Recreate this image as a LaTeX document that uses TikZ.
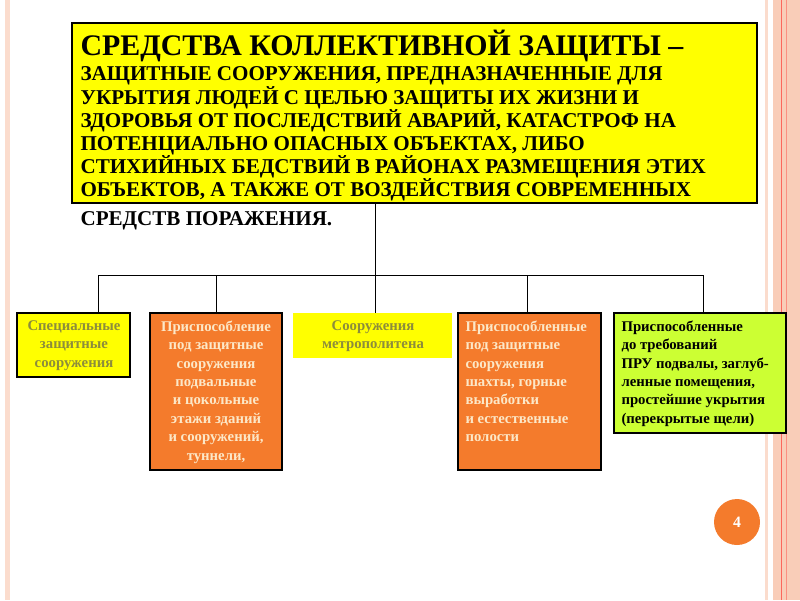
\documentclass[tikz,border=0pt]{standalone}
\usepackage{fontspec}
\setmainfont{Liberation Serif}
\definecolor{sunyellow}{HTML}{FFFF00}
\definecolor{boxorange}{HTML}{F47B2C}
\definecolor{limegreen}{HTML}{CCFF33}
\definecolor{olivetext}{HTML}{8C8C3C}
\definecolor{creamtext}{HTML}{FCE8C8}
\definecolor{stripe}{HTML}{F9CDB8}
\begin{document}
\begin{tikzpicture}[x=0.02cm,y=-0.02cm,line width=0.6pt,
    kind/.style={anchor=north west,inner sep=0pt,font=\fontsize{8.4}{10.5}\selectfont\bfseries},
    link/.style={line width=0.5pt}]
  \useasboundingbox (0,0) rectangle (800,600);
  % page frame
  \fill[stripe!70] (5,0) rectangle (10,600);
  \fill[stripe!70] (765,0) rectangle (768,600);
  \fill[stripe] (773,0) rectangle (800,600);
  \draw[stripe!50!red,line width=0.4pt] (781,0) -- (781,600);
  \draw[stripe!70!red,line width=0.4pt] (786,0) -- (786,600);
  % definition
  \draw[fill=sunyellow] (72,23) rectangle (757,203);
  \node[anchor=north west,inner sep=0pt,align=left,
        font=\fontsize{12}{13.2}\selectfont\bfseries] (def) at (80,30)
    {{\fontsize{17}{17}\selectfont СРЕДСТВА КОЛЛЕКТИВНОЙ ЗАЩИТЫ –}\\[1pt]
     ЗАЩИТНЫЕ СООРУЖЕНИЯ, ПРЕДНАЗНАЧЕННЫЕ ДЛЯ\\
     УКРЫТИЯ ЛЮДЕЙ С ЦЕЛЬЮ ЗАЩИТЫ ИХ ЖИЗНИ И\\
     ЗДОРОВЬЯ ОТ ПОСЛЕДСТВИЙ АВАРИЙ, КАТАСТРОФ НА\\
     ПОТЕНЦИАЛЬНО ОПАСНЫХ ОБЪЕКТАХ, ЛИБО\\
     СТИХИЙНЫХ БЕДСТВИЙ В РАЙОНАХ РАЗМЕЩЕНИЯ ЭТИХ\\
     ОБЪЕКТОВ, А ТАКЖЕ ОТ ВОЗДЕЙСТВИЯ СОВРЕМЕННЫХ\\[3pt]
     СРЕДСТВ ПОРАЖЕНИЯ.};
  \coordinate (root) at (375,203);
  \coordinate (bus) at (375,275);
  % kinds
  \draw[fill=sunyellow] (17,313) rectangle (130,377);
  \node[kind,anchor=north,align=center,text=olivetext] (k1) at (74,320)
    {Специальные\\защитные\\сооружения};
  \draw[fill=boxorange] (150,313) rectangle (282,470);
  \node[kind,anchor=north,align=center,text=creamtext] (k2) at (216,320)
    {Приспособление\\под защитные\\сооружения\\подвальные\\и цокольные\\этажи зданий\\и сооружений,\\туннели,};
  \fill[sunyellow] (293,313) rectangle (452,358);
  \node[kind,anchor=north,align=center,text=olivetext] (k3) at (373,320)
    {Сооружения\\метрополитена};
  \draw[fill=boxorange] (458,313) rectangle (601,470);
  \node[kind,align=left,text=creamtext] (k4) at (465,320)
    {Приспособленные\\под защитные\\сооружения\\шахты, горные\\выработки\\и естественные\\полости};
  \draw[fill=limegreen] (614,313) rectangle (786,433);
  \node[kind,align=left] (k5) at (621,320)
    {Приспособленные\\до требований\\ПРУ подвалы, заглуб-\\ленные помещения,\\простейшие укрытия\\(перекрытые щели)};
  % tree
  \draw[link] (root) -- (bus);
  \draw[link] (98,275) -- (703,275);
  \foreach \x in {98,216,375,527,703}
    \draw[link] (\x,275) -- (\x,313);
  % page number
  \node[circle,fill=boxorange,minimum size=0.92cm,text=white,font=\small\bfseries] (num) at (737,522) {4};
\end{tikzpicture}
\end{document}
